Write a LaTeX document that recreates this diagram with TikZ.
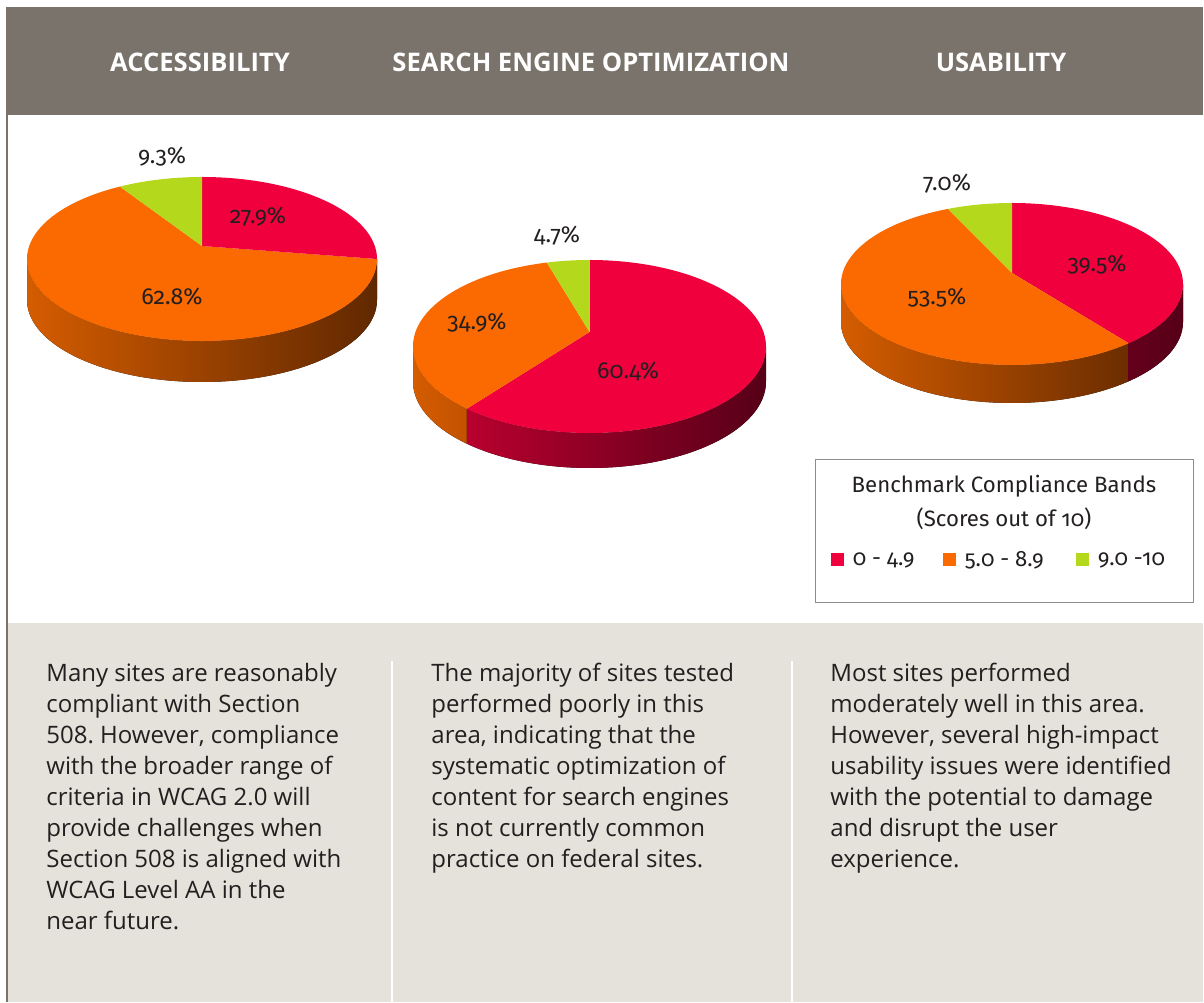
\documentclass[tikz,border=0pt]{standalone}
\usepackage{fontspec}
\setmainfont{Open Sans}
\newfontfamily\numfont[Numbers=OldStyle]{Fira Sans}
\usetikzlibrary{positioning}
\frenchspacing

\definecolor{headgray}{HTML}{7A736B}
\definecolor{bandgray}{HTML}{E4E2DA}
\definecolor{textdark}{HTML}{231F20}
\definecolor{piered}{HTML}{F0003C}
\definecolor{pieorange}{HTML}{FA6A00}
\definecolor{piegreen}{HTML}{B4D91C}
\definecolor{orangeL}{HTML}{D45C00}
\definecolor{orangeM}{HTML}{C25200}
\definecolor{orangeD}{HTML}{602800}
\definecolor{redL}{HTML}{B8002E}
\definecolor{redD}{HTML}{560018}
\definecolor{legline}{HTML}{8C8C8C}

\begin{document}
\begin{tikzpicture}[x=0.5pt, y=0.5pt,
    header/.style={text=white, font=\bfseries\fontsize{12.8}{15}\selectfont},
    pct/.style={text=textdark, inner sep=0pt, font=\numfont\fontsize{11.6}{13}\selectfont},
    body/.style={anchor=north west, align=left, inner sep=0pt, text=textdark, font=\fontsize{12}{15.5}\selectfont},
    legtext/.style={text=textdark, inner sep=0pt, font=\numfont\fontsize{11.1}{13}\selectfont},
    swatch/.style={rectangle, minimum size=6.5pt, inner sep=0pt}
 ]
\useasboundingbox (0,0) rectangle (1204,1002);

% frame
\fill[headgray] (6,887) rectangle (1203,995);
\fill[headgray] (6,0) rectangle (8,887);
\fill[bandgray] (8,0) rectangle (1203,379);
\fill[white] (391,0) rectangle (393,341);
\fill[white] (791,0) rectangle (793,341);

\node[header] (AccHead) at (200,940) {ACCESSIBILITY};
\node[header] (SeoHead) at (591,940) {SEARCH ENGINE OPTIMIZATION};
\node[header] (UseHead) at (1001,940) {USABILITY};

% accessibility pie
\begin{scope}[shift={(202,743)}, x radius=175, y radius=82]
\fill[left color=orangeL, right color=orangeD] (180:175 and 82) arc[start angle=180, end angle=360] -- ++(0,-41) arc[start angle=360, end angle=180] -- cycle;
\fill[pieorange] (0,13) -- (118:175 and 82) arc[start angle=118, end angle=360] -- cycle;
\fill[piered] (0,13) -- (0:175 and 82) arc[start angle=0, end angle=90] -- cycle;
\fill[piegreen] (0,13) -- (90:175 and 82) arc[start angle=90, end angle=118] -- cycle;
\end{scope}
\node[pct] (AccGreen) at (162,845) {9.3\%};
\node[pct] (AccRed) at (258,785) {27.9\%};
\node[pct] (AccOrange) at (172,705) {62.8\%};

% seo pie
\begin{scope}[shift={(589.5,655.5)}, x radius=176.5, y radius=86.5]
\fill[left color=orangeL, right color=orangeM] (180:176.5 and 86.5) arc[start angle=180, end angle=226] -- ++(0,-35) arc[start angle=226, end angle=180] -- cycle;
\fill[left color=redL, right color=redD] (226:176.5 and 86.5) arc[start angle=226, end angle=360] -- ++(0,-35) arc[start angle=360, end angle=226] -- cycle;
\fill[piered] (0,14.5) -- (-134:176.5 and 86.5) arc[start angle=-134, end angle=90] -- cycle;
\fill[pieorange] (0,14.5) -- (104:176.5 and 86.5) arc[start angle=104, end angle=226] -- cycle;
\fill[piegreen] (0,14.5) -- (90:176.5 and 86.5) arc[start angle=90, end angle=104] -- cycle;
\end{scope}
\node[pct] (SeoGreen) at (557,766) {4.7\%};
\node[pct] (SeoOrange) at (477,679) {34.9\%};
\node[pct] (SeoRed) at (628,631) {60.4\%};

% usability pie
\begin{scope}[shift={(1012,718)}, x radius=171, y radius=81]
\fill[left color=orangeL, right color=orangeD!90!orangeL] (180:171 and 81) arc[start angle=180, end angle=313] -- ++(0,-38) arc[start angle=313, end angle=180] -- cycle;
\fill[left color=redD!85!redL, right color=redD] (313:171 and 81) arc[start angle=313, end angle=360] -- ++(0,-38) arc[start angle=360, end angle=313] -- cycle;
\fill[piered] (0,11) -- (-47:171 and 81) arc[start angle=-47, end angle=90] -- cycle;
\fill[pieorange] (0,11) -- (112:171 and 81) arc[start angle=112, end angle=313] -- cycle;
\fill[piegreen] (0,11) -- (90:171 and 81) arc[start angle=90, end angle=112] -- cycle;
\end{scope}
\node[pct] (UseGreen) at (947,818) {7.0\%};
\node[pct] (UseRed) at (1097,737) {39.5\%};
\node[pct] (UseOrange) at (937,704) {53.5\%};

% legend
\draw[legline, fill=white] (815,400) rectangle (1193,543);
\node[legtext] (LegTitle) at (1004,516) {Benchmark Compliance Bands};
\node[legtext] (LegSub) at (1004,483) {(Scores out of 10)};
\node[swatch, fill=piered] (SwRed) at (837.5,442) {};
\node[legtext, right=4pt of SwRed] (LegRed) {0 - 4.9};
\node[swatch, fill=pieorange] (SwOrange) at (949.5,442) {};
\node[legtext, right=4pt of SwOrange] (LegOrange) {5.0 - 8.9};
\node[swatch, fill=piegreen] (SwGreen) at (1082.5,442) {};
\node[legtext, right=4pt of SwGreen] (LegGreen) {9.0 -10};

% notes
\node[body] (AccNote) at (46,339) {Many sites are reasonably\\compliant with Section\\508. However, compliance\\with the broader range of\\criteria in WCAG 2.0 will\\provide challenges when\\Section 508 is aligned with\\WCAG Level AA in the\\near future.};
\node[body] (SeoNote) at (431,339) {The majority of sites tested\\performed poorly in this\\area, indicating that the\\systematic optimization of\\content for search engines\\is not currently common\\practice on federal sites.};
\node[body] (UseNote) at (830,339) {Most sites performed\\moderately well in this area.\\However, several high-impact\\usability issues were identified\\with the potential to damage\\and disrupt the user\\experience.};

\end{tikzpicture}
\end{document}
